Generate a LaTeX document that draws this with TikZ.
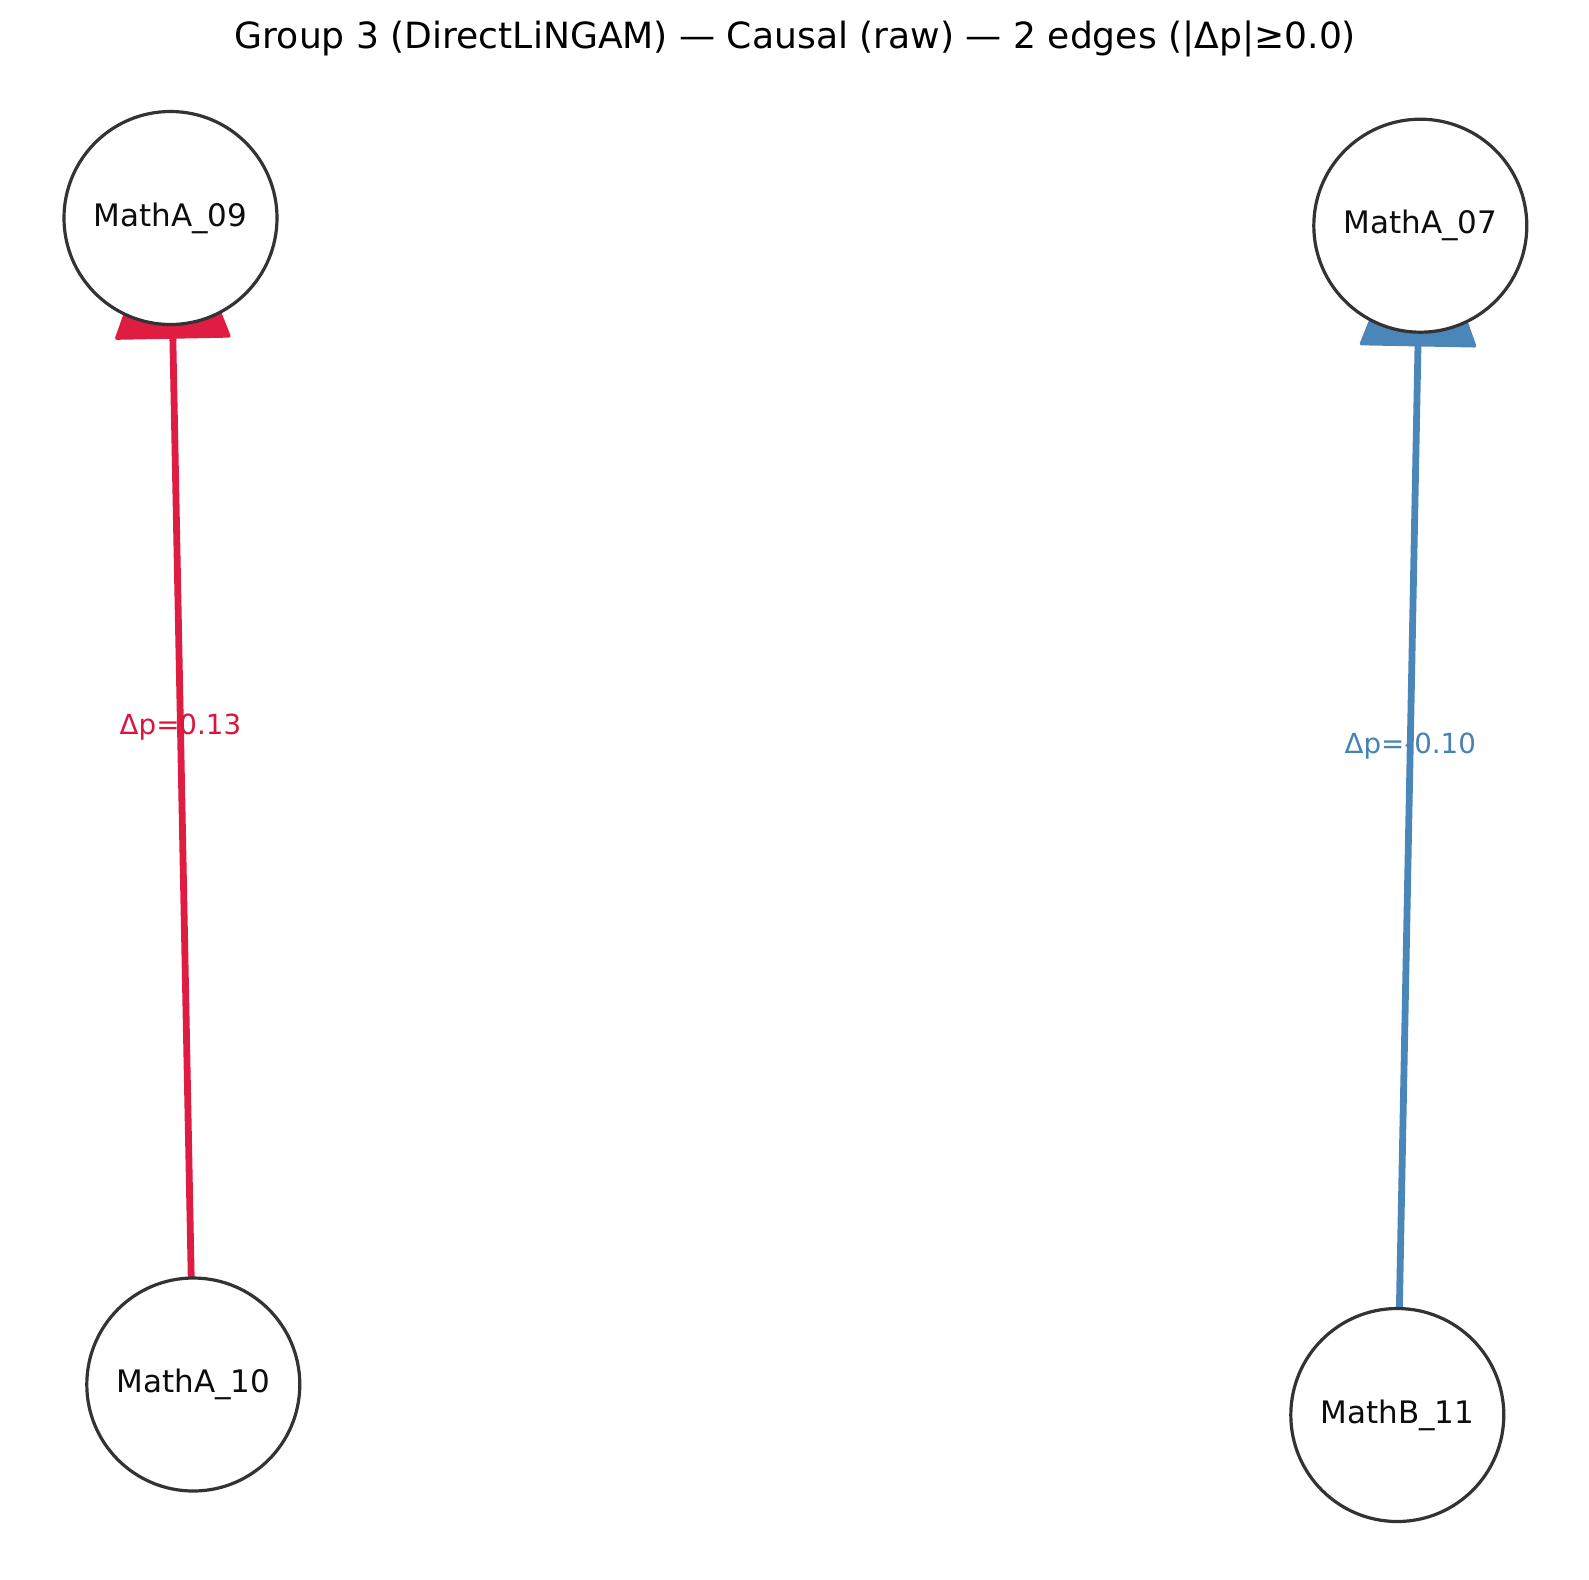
\documentclass[tikz,border=0pt]{standalone}
\usepackage{fontspec}
\setmainfont{DejaVu Sans}
\usetikzlibrary{calc}
\pgfdeclarelayer{background}
\pgfsetlayers{background,main}
\definecolor{edgered}{RGB}{223,28,66}
\definecolor{edgeblue}{RGB}{74,134,183}
\definecolor{labred}{RGB}{220,20,60}
\definecolor{labblue}{RGB}{70,130,180}
\definecolor{nodeline}{RGB}{51,51,51}
\tikzset{
  varnode/.style={circle, draw=nodeline, fill=white, line width=3.2pt,
    minimum size=213pt, inner sep=0pt, outer sep=0pt,
    font=\fontsize{31}{37}\selectfont, text=black!95},
  edgeline/.style={line width=6.8pt},
  headshape/.style={line width=3.5pt, line join=round},
  elabel/.style={font=\fontsize{27.7}{33}\selectfont, inner sep=0pt},
}
\begin{document}
\begin{tikzpicture}[x=1pt,y=-1pt]
\useasboundingbox (0,0) rectangle (1589,1579);
\node[font=\fontsize{36.1}{43}\selectfont, anchor=base] (title) at (795.5,48.5)
  {Group 3 (DirectLiNGAM) — Causal (raw) — 2 edges (|Δp|≥0.0)};
\node[varnode] (a09) at (170.5,218) {MathA\_09};
\node[varnode] (a07) at (1420.3,225.7) {MathA\_07};
\node[varnode] (a10) at (193.3,1384.5) {MathA\_10};
\node[varnode] (b11) at (1397.3,1415) {MathB\_11};
\begin{pgfonlayer}{background}
  % red edge a10 -> a09
  \coordinate (rb) at ($(a09.center)!119pt!(a10.center)$);
  \draw[edgeline, edgered] (a10) -- (rb);
  \filldraw[headshape, edgered]
    ($(rb)!56pt!90:(a09.center)$) -- ($(rb)!56pt!-90:(a09.center)$)
    -- ($(rb)!149pt!(a09.center)$) -- cycle;
  % blue edge b11 -> a07
  \coordinate (bb) at ($(a07.center)!119pt!(b11.center)$);
  \draw[edgeline, edgeblue] (b11) -- (bb);
  \filldraw[headshape, edgeblue]
    ($(bb)!56.5pt!90:(a07.center)$) -- ($(bb)!56.5pt!-90:(a07.center)$)
    -- ($(bb)!149pt!(a07.center)$) -- cycle;
\end{pgfonlayer}
\path (a10.center) -- node[elabel, text=labred, pos=0.564] (lred) {Δp=0.13} (a09.center);
\path (b11.center) -- node[elabel, text=labblue, pos=0.5626] (lblue) {Δp=-0.10} (a07.center);
\end{tikzpicture}
\end{document}
